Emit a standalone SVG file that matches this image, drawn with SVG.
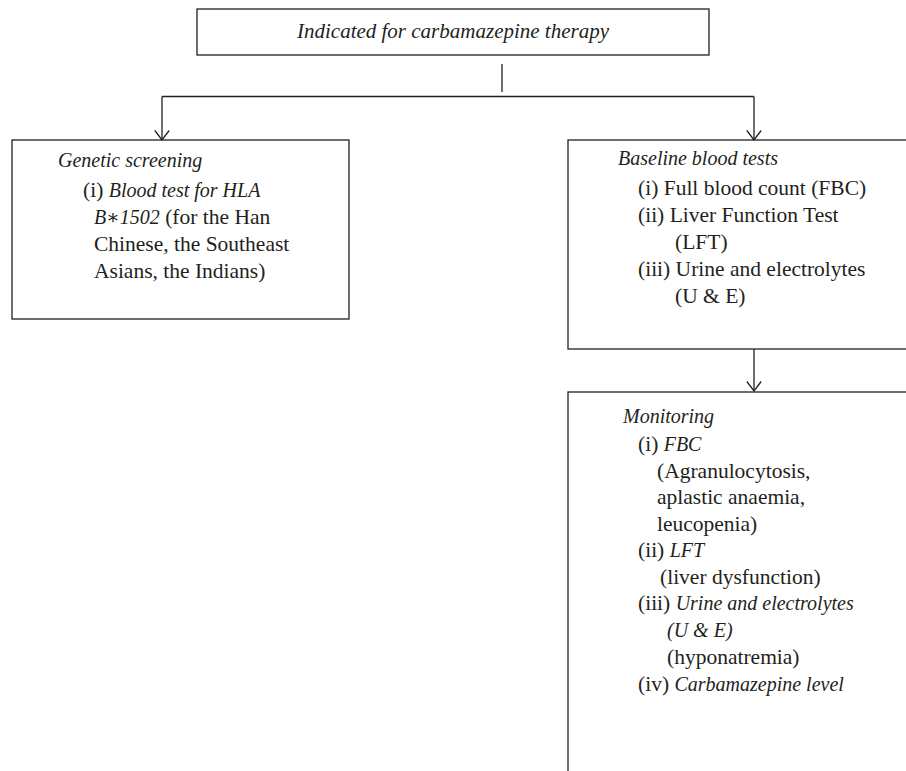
<svg xmlns="http://www.w3.org/2000/svg" width="906" height="771" viewBox="0 0 906 771">
<style>
.box{fill:none;stroke:#231f20;stroke-width:1.3}
.ln{fill:none;stroke:#231f20;stroke-width:1.3}
text{font-family:"Liberation Serif","DejaVu Serif",serif;font-size:21.5px;fill:#231f20}
.it{font-style:italic;font-size:20px}
</style>
<defs>
<marker id="ah" markerWidth="12" markerHeight="16" refX="10.5" refY="8" orient="auto" markerUnits="userSpaceOnUse" viewBox="0 0 12 16">
<path d="M1,0.8 L10.5,8 L1,15.2" fill="none" stroke="#231f20" stroke-width="1.3"/>
</marker>
</defs>
<g id="connectors">
<path class="ln" d="M502,64 V92"/>
<path class="ln" d="M162,96.5 H754"/>
<path class="ln" d="M162,96.5 V140" marker-end="url(#ah)"/>
<path class="ln" d="M754,96.5 V140" marker-end="url(#ah)"/>
<path class="ln" d="M754,349 V391" marker-end="url(#ah)"/>
</g>
<g id="top">
<rect class="box" x="197" y="9" width="512" height="46"/>
<text class="it" x="453" y="38" text-anchor="middle" style="font-size:21px">Indicated for carbamazepine therapy</text>
</g>
<g id="genetic">
<rect class="box" x="12" y="140" width="337" height="179"/>
<text class="it" x="58" y="167">Genetic screening</text>
<text x="83" y="197">(i) <tspan class="it">Blood test for HLA</tspan></text>
<text x="94" y="224"><tspan class="it">B∗1502</tspan> (for the Han</text>
<text x="94" y="251">Chinese, the Southeast</text>
<text x="94" y="278">Asians, the Indians)</text>
</g>
<g id="baseline">
<rect class="box" x="568" y="140" width="345" height="209"/>
<text class="it" x="618" y="165">Baseline blood tests</text>
<text x="638" y="195">(i) Full blood count (FBC)</text>
<text x="638" y="222">(ii) Liver Function Test</text>
<text x="675" y="249">(LFT)</text>
<text x="638" y="276">(iii) Urine and electrolytes</text>
<text x="675" y="303">(U &amp; E)</text>
</g>
<g id="monitoring">
<rect class="box" x="568" y="392" width="345" height="390"/>
<text class="it" x="623" y="423">Monitoring</text>
<text x="638" y="451">(i) <tspan class="it">FBC</tspan></text>
<text x="657" y="478">(Agranulocytosis,</text>
<text x="657" y="504">aplastic anaemia,</text>
<text x="657" y="531">leucopenia)</text>
<text x="638" y="557">(ii) <tspan class="it">LFT</tspan></text>
<text x="660" y="584">(liver dysfunction)</text>
<text x="638" y="610">(iii) <tspan class="it">Urine and electrolytes</tspan></text>
<text class="it" x="667" y="637">(U &amp; E)</text>
<text x="667" y="664">(hyponatremia)</text>
<text x="638" y="691">(iv) <tspan class="it">Carbamazepine level</tspan></text>
</g>
</svg>
